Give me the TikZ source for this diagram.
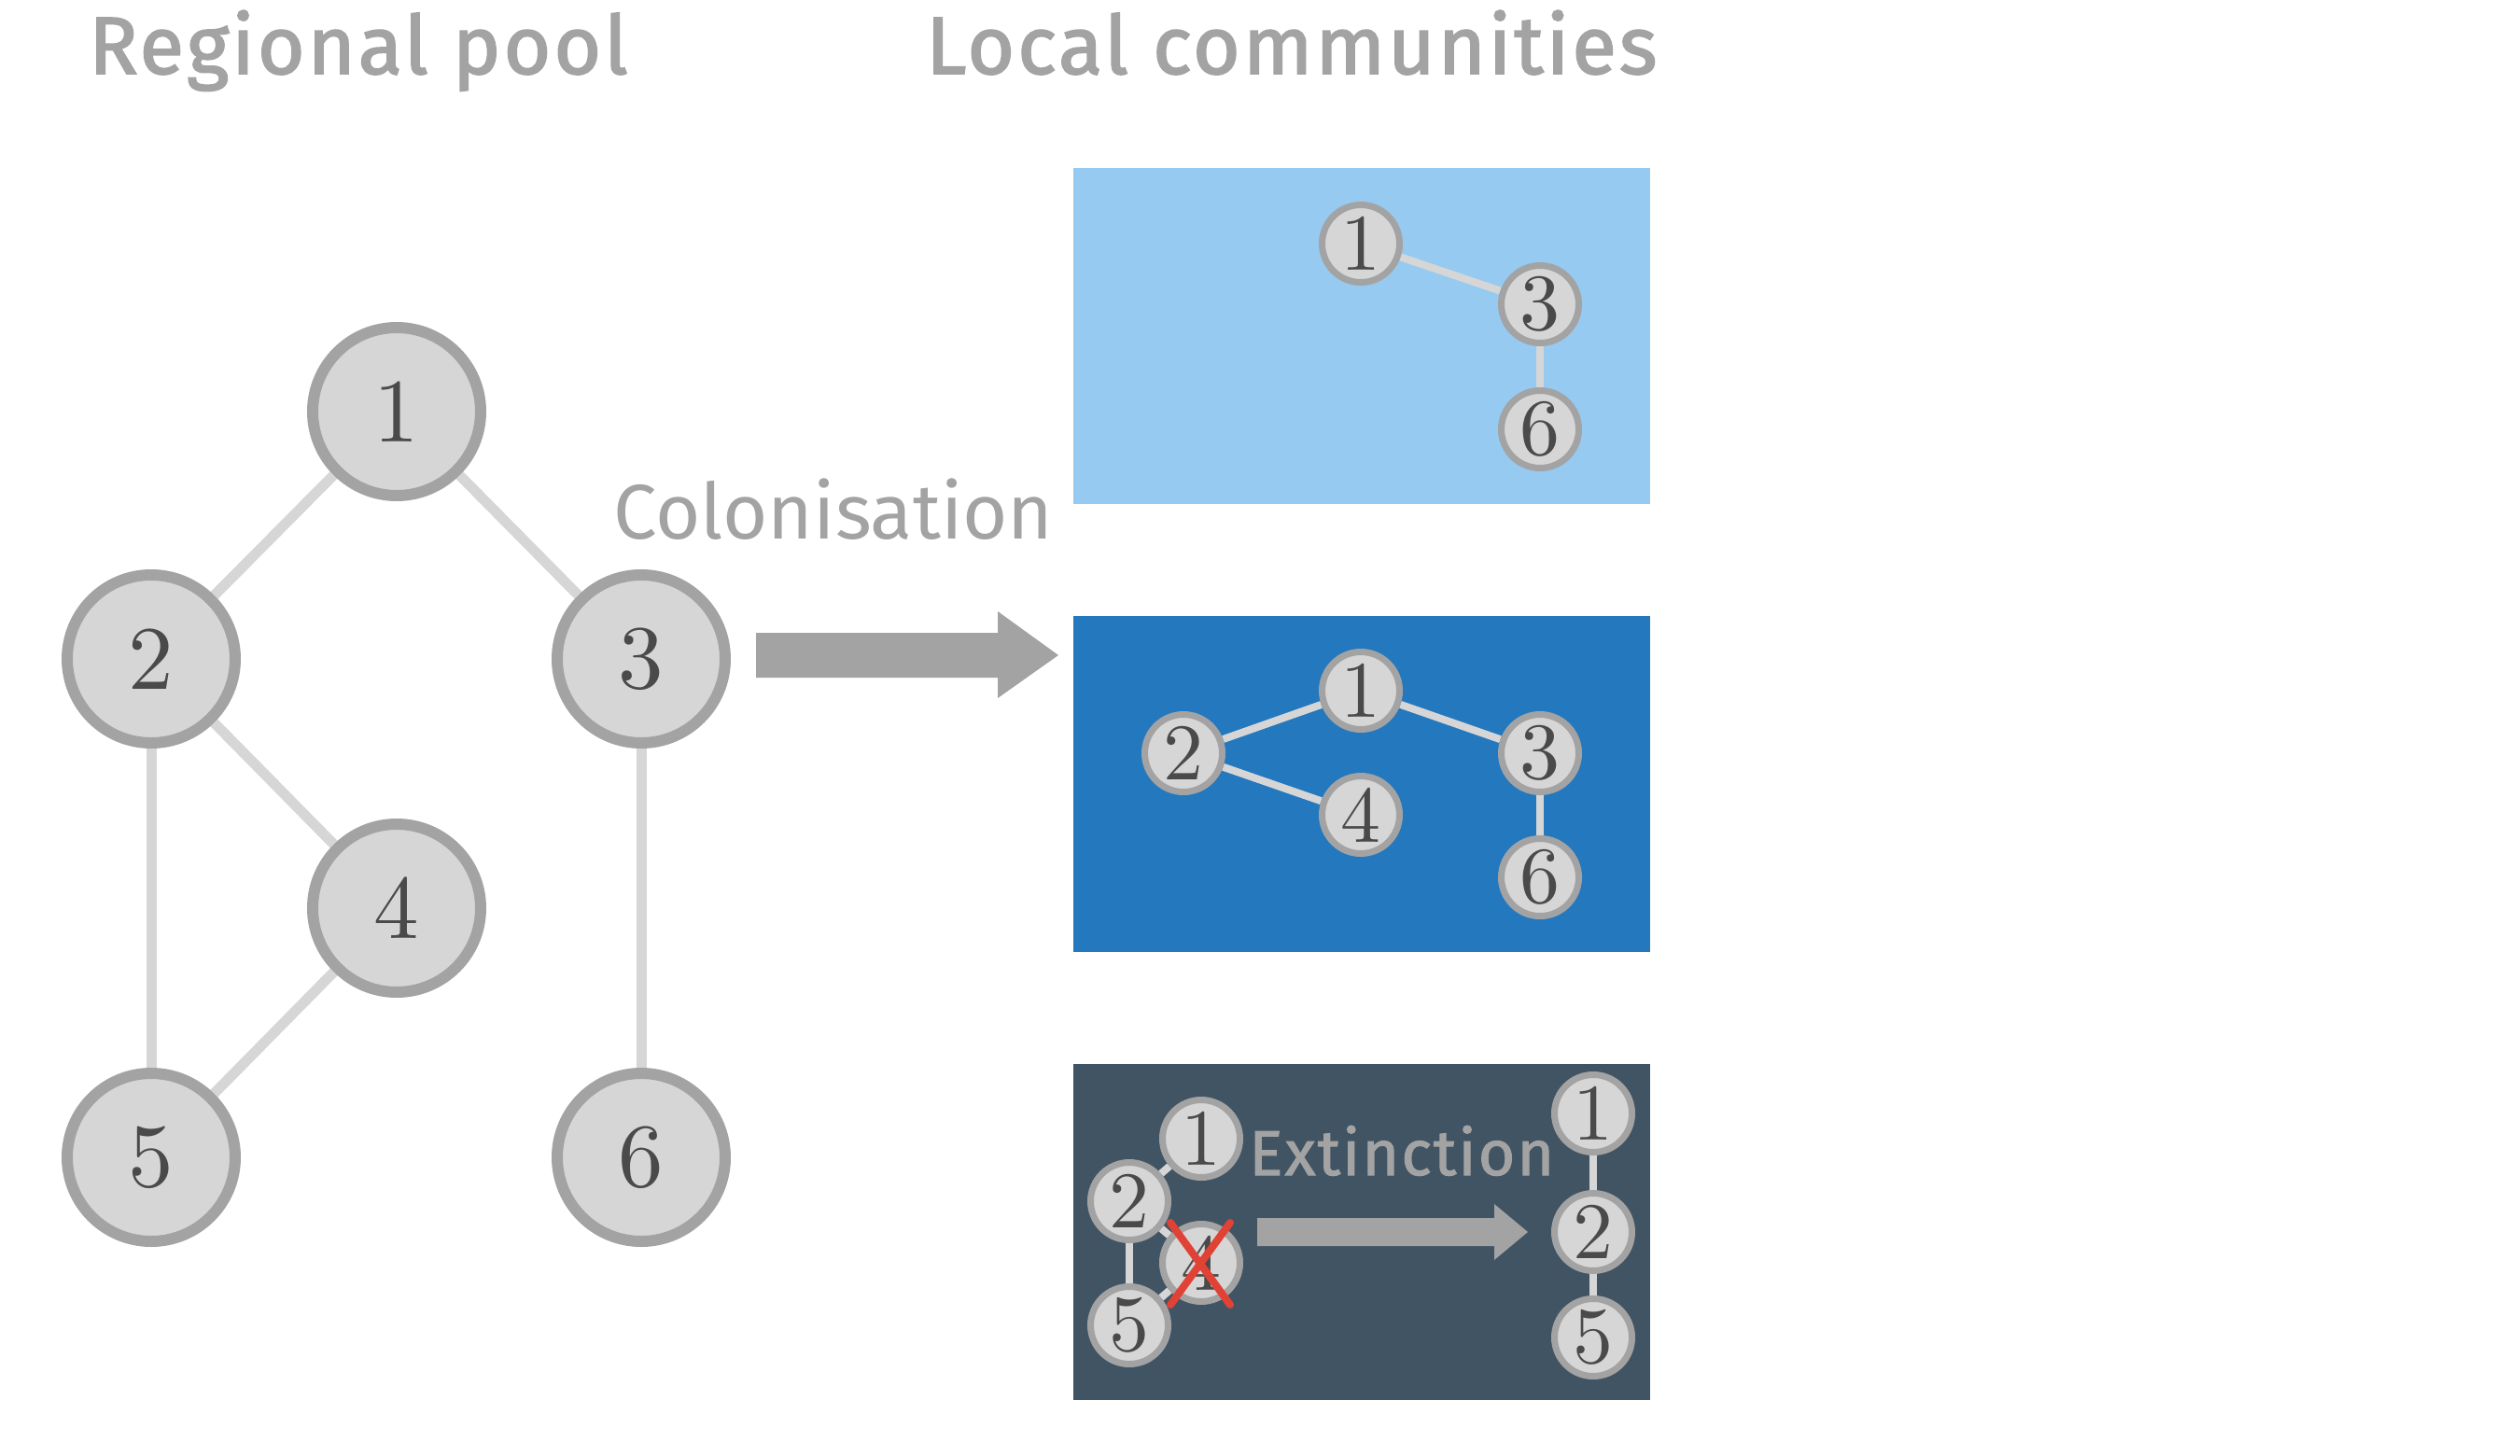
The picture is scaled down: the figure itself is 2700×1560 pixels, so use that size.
\documentclass[tikz,border=0pt]{standalone}
\usepackage{fontspec}
\newfontfamily\labelfont{Fira Sans}
\newfontfamily\headfont{Fira Sans}[FakeBold=2,LetterSpace=3.5]
\newfontfamily\extfont{Fira Sans}[FakeBold=1.5,LetterSpace=3]
\newfontfamily\numfont{lmroman10-regular}[Extension=.otf]
\usetikzlibrary{calc}
\definecolor{txtgrey}{HTML}{A3A3A3}
\definecolor{nodefill}{HTML}{D6D6D6}
\definecolor{nodeline}{HTML}{A3A3A3}
\definecolor{numcol}{HTML}{4A4A4A}
\definecolor{edgecol}{HTML}{D6D6D6}
\definecolor{panelA}{HTML}{96CAF0}
\definecolor{panelB}{HTML}{2478BE}
\definecolor{panelC}{HTML}{415464}
\definecolor{crossred}{HTML}{E04335}
\pgfdeclarelayer{bglayer}
\pgfdeclarelayer{edgelayer}
\pgfsetlayers{bglayer,edgelayer,main}
\tikzset{
  bignode/.style={circle, fill=nodefill, draw=nodeline, line width=12pt,
    minimum size=180pt, inner sep=0pt, text=numcol,
    font=\numfont\fontsize{97}{100}\selectfont},
  smallnode/.style={circle, fill=nodefill, draw=nodeline, line width=7pt,
    minimum size=83pt, inner sep=0pt, text=numcol,
    font=\numfont\fontsize{86}{90}\selectfont},
  bigedge/.style={draw=edgecol, line width=11pt},
  smalledge/.style={draw=edgecol, line width=8pt},
  titletext/.style={anchor=base west, inner sep=0pt, text=txtgrey,
    font=\headfont\fontsize{87}{90}\selectfont},
  proctext/.style={anchor=base west, inner sep=0pt, text=txtgrey},
  xline/.style={draw=crossred, line width=8pt, line cap=round}
}
\begin{document}
\begin{tikzpicture}[x=1pt, y=-1pt]
\useasboundingbox (0,0) rectangle (2700,1560);
% titles
\node[titletext] (t1) at (95,79) {Regional pool};
\node[titletext] (t2) at (992,79) {Local communities};
% regional pool
\node[bignode] (r1) at (425,441) {1};
\node[bignode] (r2) at (162,706) {2};
\node[bignode] (r3) at (687,706) {3};
\node[bignode] (r4) at (425,973) {4};
\node[bignode] (r5) at (162,1240) {5};
\node[bignode] (r6) at (687,1240) {6};
\begin{pgfonlayer}{edgelayer}
\draw[bigedge] (r1) -- (r2);
\draw[bigedge] (r1) -- (r3);
\draw[bigedge] (r2) -- (r4);
\draw[bigedge] (r2) -- (r5);
\draw[bigedge] (r4) -- (r5);
\draw[bigedge] (r3) -- (r6);
\end{pgfonlayer}
% colonisation
\node[proctext, font=\labelfont\fontsize{83}{86}\selectfont] (col) at (657,577) {Colonisation};
\fill[txtgrey] (810,678) -- (1069,678) -- (1069,655) -- (1134,702) -- (1069,748) -- (1069,726) -- (810,726) -- cycle;
% panels
\begin{pgfonlayer}{bglayer}
\fill[panelA] (1150,180) rectangle (1768,540);
\fill[panelB] (1150,660) rectangle (1768,1020);
\fill[panelC] (1150,1140) rectangle (1768,1500);
\end{pgfonlayer}
% panel A
\node[smallnode] (a1) at (1458,261) {1};
\node[smallnode] (a3) at (1650,326) {3};
\node[smallnode] (a6) at (1650,460) {6};
\begin{pgfonlayer}{edgelayer}
\draw[smalledge] (a1) -- (a3);
\draw[smalledge] (a3) -- (a6);
\end{pgfonlayer}
% panel B
\node[smallnode] (b1) at (1458,740) {1};
\node[smallnode] (b2) at (1268,807) {2};
\node[smallnode] (b3) at (1650,807) {3};
\node[smallnode] (b4) at (1458,873) {4};
\node[smallnode] (b6) at (1650,940) {6};
\begin{pgfonlayer}{edgelayer}
\draw[smalledge] (b2) -- (b1);
\draw[smalledge] (b1) -- (b3);
\draw[smalledge] (b2) -- (b4);
\draw[smalledge] (b3) -- (b6);
\end{pgfonlayer}
% panel C
\node[smallnode] (c1) at (1287,1220) {1};
\node[smallnode] (c2) at (1210,1287) {2};
\node[smallnode] (c4) at (1287,1353) {4};
\node[smallnode] (c5) at (1210,1420) {5};
\begin{pgfonlayer}{edgelayer}
\draw[smalledge] (c1) -- (c2);
\draw[smalledge] (c2) -- (c4);
\draw[smalledge] (c2) -- (c5);
\draw[smalledge] (c4) -- (c5);
\end{pgfonlayer}
\draw[xline] ($(c4)+(-33,-43)$) -- ($(c4)+(31,45)$);
\draw[xline] ($(c4)+(31,-43)$) -- ($(c4)+(-33,45)$);
\node[proctext, font=\extfont\fontsize{68}{70}\selectfont] (ext) at (1338,1259) {Extinction};
\fill[txtgrey] (1347,1305) -- (1601,1305) -- (1601,1290) -- (1637,1320) -- (1601,1350) -- (1601,1335) -- (1347,1335) -- cycle;
\node[smallnode] (d1) at (1707,1193) {1};
\node[smallnode] (d2) at (1707,1320) {2};
\node[smallnode] (d5) at (1707,1433) {5};
\begin{pgfonlayer}{edgelayer}
\draw[smalledge] (d1) -- (d2);
\draw[smalledge] (d2) -- (d5);
\end{pgfonlayer}
\end{tikzpicture}
\end{document}
